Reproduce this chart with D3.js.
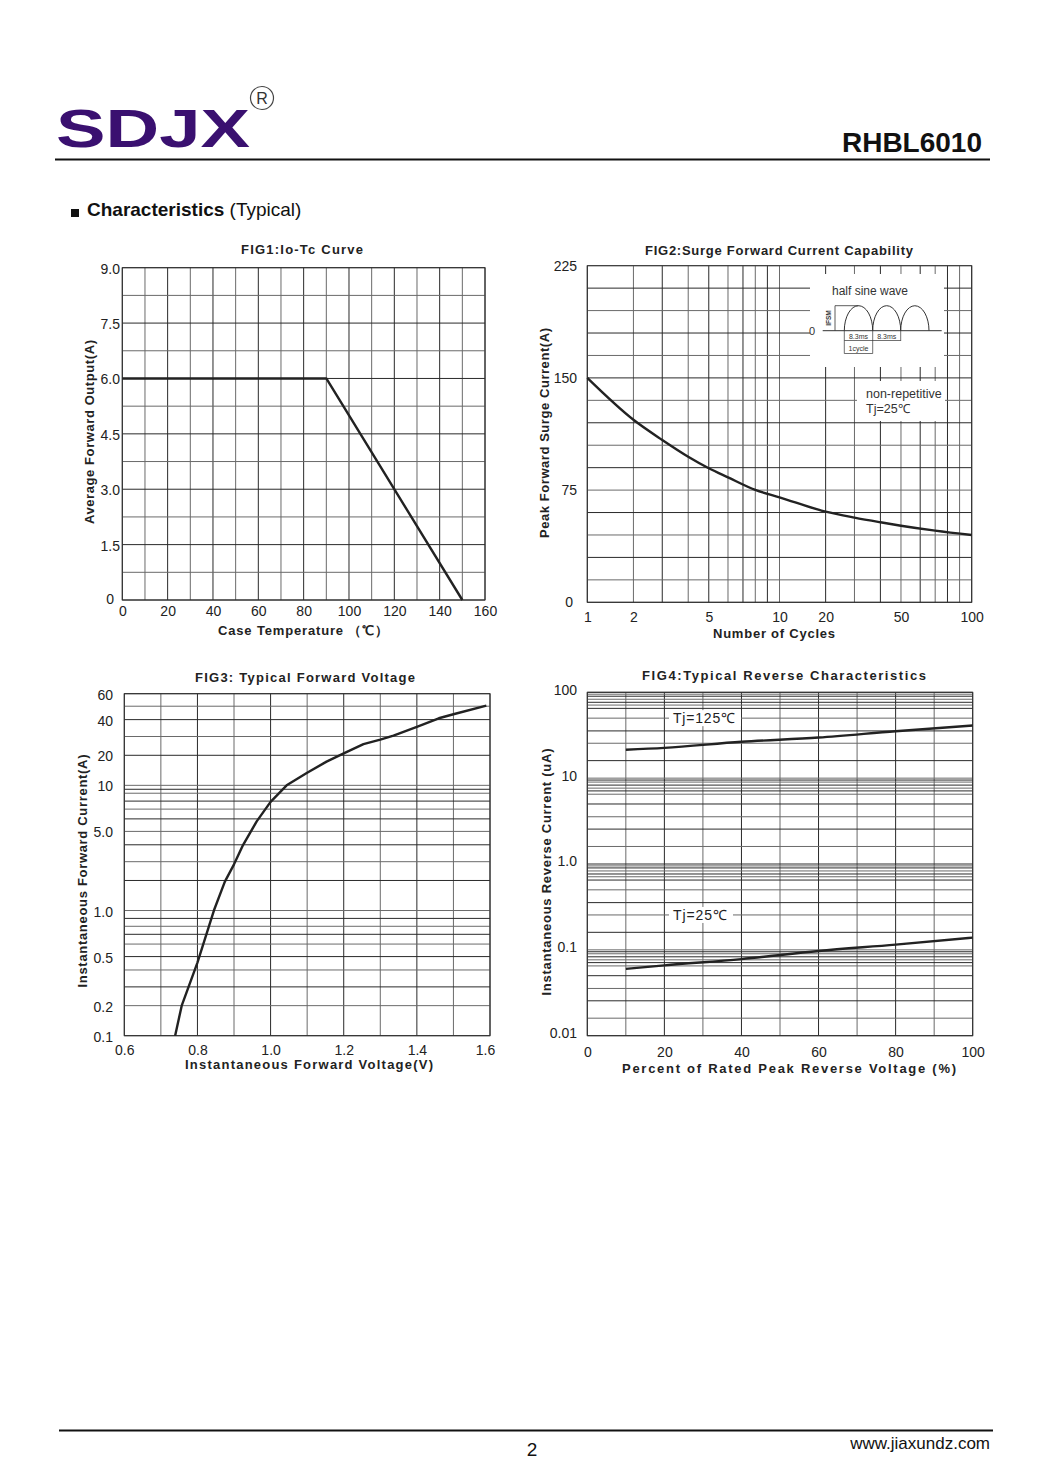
<!DOCTYPE html>
<html><head><meta charset="utf-8">
<script src="https://cdn.jsdelivr.net/npm/d3@7"></script>
<style>body{margin:0;background:#fff} svg{display:block} text{font-family:"Liberation Sans",Arial,sans-serif}</style>
</head><body>
<svg id="page" width="1045" height="1479"></svg>
<script>
// ---------------- DATA ----------------
// FIG1 Io-Tc
const fig1Temp = [0, 90, 150];
const fig1Current = [6.0, 6.0, 0];
const fig1XTicks = [0, 20, 40, 60, 80, 100, 120, 140, 160];
const fig1YTicks = [0, 1.5, 3.0, 4.5, 6.0, 7.5, 9.0];
const fig1XGrid = d3.range(0, 161, 10);
const fig1YGrid = d3.range(0, 9.01, 0.75);

// FIG2 Surge
const fig2Cycles = [1, 2, 3, 4, 5, 6, 8, 10, 20, 30, 40, 50, 70, 100];
const fig2Current = [150, 122, 108.5, 97.3, 89.6, 83.5, 75.1, 70.2, 60.6, 56.6, 53.5, 51.2, 47.9, 45];
const fig2XTicks = [1, 2, 5, 10, 20, 50, 100];
const fig2YTicks = [0, 75, 150, 225];
const fig2XGrid = [1, 2, 3, 4, 5, 6, 7, 8, 9, 10, 20, 30, 40, 50, 60, 70, 80, 90, 100];
const fig2YGrid = d3.range(0, 226, 15);

// FIG3 Forward voltage
const fig3Voltage = [0.739, 0.757, 0.80, 0.845, 0.875, 0.90, 0.925, 0.962, 1.0, 1.044, 1.10, 1.153, 1.20, 1.254, 1.30, 1.336, 1.40, 1.46, 1.50, 1.59];
const fig3Current = [0.1, 0.2, 0.455, 1.0, 1.96, 2.86, 4.0, 5.8, 7.9, 10, 14.2, 17.9, 21, 25.9, 28.3, 30.5, 35.7, 41, 44, 50.5];
const fig3XTicks = [0.6, 0.8, 1.0, 1.2, 1.4, 1.6];
const fig3YTicks = [0.1, 0.2, 0.5, 1.0, 5.0, 10, 20, 40, 60];
const fig3YTickText = ["0.1", "0.2", "0.5", "1.0", "5.0", "10", "20", "40", "60"];
const fig3XGrid = d3.range(0.6, 1.61, 0.1);
const fig3YGrid = [0.1, 0.2, 0.3, 0.4, 0.5, 0.6, 0.7, 0.8, 0.9, 1, 2, 3, 4, 5, 6, 7, 8, 9, 9.5, 10, 20, 30, 40, 50, 60];

// FIG4 Reverse
const fig4Percent = [10, 20, 40, 60, 80, 100];
const fig4Tj125 = [21.4, 22.5, 26.5, 29.7, 35.2, 41];
const fig4Tj25 = [0.06, 0.066, 0.078, 0.097, 0.115, 0.139];
const fig4XTicks = [0, 20, 40, 60, 80, 100];
const fig4YTicks = [0.01, 0.1, 1, 10, 100];
const fig4YTickText = ["0.01", "0.1", "1.0", "10", "100"];
const fig4XGrid = d3.range(0, 101, 10);
const fig4GridMantissa = [1, 1.6, 2.55, 3.55, 5, 6.5, 7.1, 7.65, 8.3, 9.0, 9.5];
const fig4Decades = [0.01, 0.1, 1, 10];
const fig4Labels = ["Tj=125℃", "Tj=25℃"];
const fig4LabelLevel = [50, 0.255];

// chart-paper "log" axis used by FIG2 / FIG3 (fraction of a decade for mantissa 1..10)
const decadeFrac = [0, 0.24, 0.39, 0.525, 0.632, 0.732, 0.81, 0.874, 0.937, 1];

// ---------------- DRAW ----------------
const svg = d3.select('#page');
const INK = '#222';
const FONT = '"Liberation Sans",Arial,sans-serif';
const mantissa = d3.scaleLinear().domain(d3.range(1, 11)).range(decadeFrac);
function chartLog(v) {
  const e = Math.floor(Math.log10(v) + 1e-9);
  return e + mantissa(v / Math.pow(10, e));
}

function gridLines(g, xPos, yPos, xVals, yVals, r) {
  g.append('g').selectAll('line').data(xVals).join('line')
    .attr('x1', d => xPos(d)).attr('x2', d => xPos(d))
    .attr('y1', r.y0).attr('y2', r.y1)
    .attr('stroke', (d, i) => i % 2 ? '#6a6a6a' : '#2a2a2a').attr('stroke-width', 1);
  g.append('g').selectAll('line').data(yVals).join('line')
    .attr('y1', d => yPos(d)).attr('y2', d => yPos(d))
    .attr('x1', r.x0).attr('x2', r.x1)
    .attr('stroke', (d, i) => i % 2 ? '#6a6a6a' : '#2a2a2a').attr('stroke-width', 1);
}
function frame(g, r) {
  g.append('rect').attr('x', r.x0).attr('y', r.y0).attr('width', r.x1 - r.x0).attr('height', r.y1 - r.y0)
    .attr('fill', 'none').attr('stroke', '#333').attr('stroke-width', 1);
}
function styleAxis(sel) {
  sel.attr('font-family', FONT).attr('font-size', 14);
  sel.select('.domain').remove();
  sel.selectAll('.tick line').remove();
  sel.selectAll('text').attr('fill', INK);
}
function title(txt, x, y, len) {
  svg.append('text').attr('x', x).attr('y', y).attr('text-anchor', 'middle')
    .attr('font-weight', 'bold').attr('font-size', 13).attr('fill', INK)
    .attr('textLength', len).attr('lengthAdjust', 'spacing').text(txt);
}
function yTitle(txt, x, cy, len) {
  svg.append('text').attr('transform', `translate(${x},${cy}) rotate(-90)`).attr('text-anchor', 'middle')
    .attr('font-weight', 'bold').attr('font-size', 13).attr('fill', INK)
    .attr('textLength', len).attr('lengthAdjust', 'spacing').text(txt);
}
function curve(g, xs, ys, xPos, yPos, smooth) {
  const pts = xs.map((d, i) => [xPos(d), yPos(ys[i])]);
  const gen = d3.line().curve(smooth ? d3.curveMonotoneX : d3.curveLinear);
  g.append('path').attr('d', gen(pts)).attr('fill', 'none')
    .attr('stroke', '#222').attr('stroke-width', 2.4).attr('stroke-linejoin', 'round');
}

// ---- Header ----
svg.append('text').attr('x', 56).attr('y', 147).attr('font-family', '"DejaVu Sans",sans-serif')
  .attr('font-weight', 'bold').attr('font-size', 54).attr('fill', '#3a1070')
  .attr('textLength', 194).attr('lengthAdjust', 'spacingAndGlyphs').text('SDJX');
svg.append('circle').attr('cx', 262).attr('cy', 98).attr('r', 11.5).attr('fill', 'none').attr('stroke', '#444').attr('stroke-width', 1.2);
svg.append('text').attr('x', 262).attr('y', 104).attr('text-anchor', 'middle').attr('font-size', 16).attr('fill', '#333').text('R');
svg.append('line').attr('x1', 55).attr('x2', 990).attr('y1', 159.5).attr('y2', 159.5).attr('stroke', '#111').attr('stroke-width', 2);
svg.append('text').attr('x', 982).attr('y', 152).attr('text-anchor', 'end').attr('font-weight', 'bold')
  .attr('font-size', 28).attr('fill', '#111').text('RHBL6010');
svg.append('rect').attr('x', 71).attr('y', 209).attr('width', 8).attr('height', 8).attr('fill', '#111');
const ch = svg.append('text').attr('x', 87).attr('y', 216).attr('font-size', 19).attr('fill', '#111');
ch.append('tspan').attr('font-weight', 'bold').text('Characteristics');
ch.append('tspan').text(' (Typical)');

// ---- Footer ----
svg.append('line').attr('x1', 59).attr('x2', 993).attr('y1', 1430.5).attr('y2', 1430.5).attr('stroke', '#111').attr('stroke-width', 2);
svg.append('text').attr('x', 532).attr('y', 1456).attr('text-anchor', 'middle').attr('font-size', 19).attr('fill', '#111').text('2');
svg.append('text').attr('x', 990).attr('y', 1449).attr('text-anchor', 'end').attr('font-size', 17).attr('fill', '#111').text('www.jiaxundz.com');

// ---- FIG1 ----
{
  const r = {x0: 122.3, x1: 485, y0: 267.7, y1: 600};
  const x = d3.scaleLinear().domain([0, 160]).range([r.x0, r.x1]);
  const y = d3.scaleLinear().domain([0, 9]).range([r.y1, r.y0]);
  const g = svg.append('g');
  gridLines(g, x, y, fig1XGrid, fig1YGrid, r);
  frame(g, r);
  curve(g, fig1Temp, fig1Current, x, y, false);
  const ya = svg.append('g').attr('transform', 'translate(120,1)')
    .call(d3.axisLeft(y).tickValues(fig1YTicks).tickSize(0).tickPadding(0).tickFormat(d => d === 0 ? '0' : d3.format('.1f')(d)));
  styleAxis(ya);
  ya.selectAll('.tick').filter(d => d === 0).select('text').attr('x', -6).attr('dy', '0.2em');
  const xa = svg.append('g').attr('transform', 'translate(0,606)')
    .call(d3.axisBottom(x).tickValues(fig1XTicks).tickSize(0).tickPadding(0));
  styleAxis(xa);
  title('FIG1:Io-Tc Curve', 302, 254, 122);
  title('Case Temperature （℃）', 303, 635, 170);
  yTitle('Average Forward Output(A)', 94, 432, 184);
}

// ---- FIG2 ----
{
  const r = {x0: 587.3, x1: 971.7, y0: 265.7, y1: 602.3};
  const xl = d3.scaleLinear().domain([0, 2]).range([r.x0, r.x1]);
  const x = v => xl(chartLog(v));
  const y = d3.scaleLinear().domain([0, 225]).range([r.y1, r.y0]);
  const g = svg.append('g');
  gridLines(g, x, y, fig2XGrid, fig2YGrid, r);
  frame(g, r);
  // inset white areas
  g.append('rect').attr('x', 810).attr('y', 274).attr('width', 134).attr('height', 93).attr('fill', '#fff');
  g.append('rect').attr('x', 857).attr('y', 381).attr('width', 88).attr('height', 40).attr('fill', '#fff');
  curve(g, fig2Cycles, fig2Current, x, y, true);
  const ya = svg.append('g').attr('transform', 'translate(577,0)')
    .call(d3.axisLeft(y).tickValues(fig2YTicks).tickSize(0).tickPadding(0));
  styleAxis(ya);
  ya.selectAll('.tick').filter(d => d === 0).select('text').attr('x', -4);
  const xa = svg.append('g').attr('transform', 'translate(0,612)')
    .call(d3.axisBottom(xl).tickValues(fig2XTicks.map(chartLog)).tickSize(0).tickPadding(0)
      .tickFormat((d, i) => fig2XTicks[i]));
  styleAxis(xa);
  title('FIG2:Surge Forward Current Capability', 779, 255, 268);
  title('Number of Cycles', 774, 638, 122);
  yTitle('Peak Forward Surge Current(A)', 549, 433, 210);

  // inset drawing
  const ins = svg.append('g').attr('fill', 'none').attr('stroke', '#333');
  const base = 330.7, peak = 305.7;
  const hx = [844.3, 872.7, 900.7, 929];
  ins.append('line').attr('x1', 822.7).attr('x2', 941.7).attr('y1', base).attr('y2', base).attr('stroke-width', 1);
  for (let i = 0; i < 3; i++) {
    const w = (hx[i + 1] - hx[i]) / 2;
    ins.append('path').attr('d', `M${hx[i]},${base} A${w},${base - peak} 0 0 1 ${hx[i + 1]},${base}`).attr('stroke-width', 1);
  }
  ins.append('line').attr('x1', 835).attr('x2', 835).attr('y1', peak).attr('y2', base).attr('stroke-width', 0.8);
  ins.append('line').attr('x1', 835).attr('x2', 858.5).attr('y1', peak).attr('y2', peak).attr('stroke-width', 0.8);
  [0, 1, 2].forEach(i => ins.append('line').attr('x1', hx[i]).attr('x2', hx[i]).attr('y1', base).attr('y2', i < 2 ? 353.5 : 341).attr('stroke-width', 0.7));
  ins.append('line').attr('x1', hx[0]).attr('x2', hx[2]).attr('y1', 340.5).attr('y2', 340.5).attr('stroke-width', 0.7);
  ins.append('line').attr('x1', hx[0]).attr('x2', hx[1]).attr('y1', 353.5).attr('y2', 353.5).attr('stroke-width', 0.7);
  const it = svg.append('g').attr('fill', '#333');
  it.append('text').attr('x', 832).attr('y', 295).attr('font-size', 12).text('half sine wave');
  it.append('text').attr('x', 809).attr('y', 335).attr('font-size', 11).text('0');
  it.append('text').attr('transform', 'translate(831,318) rotate(-90)').attr('text-anchor', 'middle')
    .attr('font-size', 6.5).attr('font-weight', 'bold').text('IFSM');
  it.append('text').attr('x', 858.5).attr('y', 338.5).attr('text-anchor', 'middle').attr('font-size', 7).text('8.3ms');
  it.append('text').attr('x', 886.7).attr('y', 338.5).attr('text-anchor', 'middle').attr('font-size', 7).text('8.3ms');
  it.append('text').attr('x', 858.5).attr('y', 350.5).attr('text-anchor', 'middle').attr('font-size', 7).text('1cycle');
  it.append('text').attr('x', 866).attr('y', 398).attr('font-size', 12.5).text('non-repetitive');
  it.append('text').attr('x', 866).attr('y', 413).attr('font-size', 12.5).text('Tj=25℃');
}

// ---- FIG3 ----
{
  const r = {x0: 124.3, x1: 490, y0: 693.7, y1: 1035.7};
  const x = d3.scaleLinear().domain([0.6, 1.6]).range([r.x0, r.x1]);
  const yl = d3.scaleLinear().domain([chartLog(0.1), chartLog(60)]).range([r.y1, r.y0]);
  const y = v => yl(chartLog(v));
  const g = svg.append('g');
  gridLines(g, x, y, fig3XGrid, fig3YGrid, r);
  frame(g, r);
  curve(g, fig3Voltage, fig3Current, x, y, false);
  const ya = svg.append('g').attr('transform', 'translate(113,1)')
    .call(d3.axisLeft(yl).tickValues(fig3YTicks.map(chartLog)).tickSize(0).tickPadding(0)
      .tickFormat((d, i) => fig3YTickText[i]));
  styleAxis(ya);
  const xa = svg.append('g').attr('transform', 'translate(0,1045)')
    .call(d3.axisBottom(x).tickValues(fig3XTicks).tickSize(0).tickPadding(0).tickFormat(d3.format('.1f')));
  styleAxis(xa);
  xa.selectAll('.tick').filter(d => d > 1.55).select('text').attr('x', -5);
  title('FIG3: Typical Forward Voltage', 305, 682, 220);
  title('Instantaneous Forward Voltage(V)', 309, 1069, 248);
  yTitle('Instantaneous Forward Current(A)', 87, 871, 233);
}

// ---- FIG4 ----
{
  const r = {x0: 587.3, x1: 972.7, y0: 692.3, y1: 1035.7};
  const x = d3.scaleLinear().domain([0, 100]).range([r.x0, r.x1]);
  const y = d3.scaleLog().domain([0.01, 100]).range([r.y1, r.y0]);
  const yGrid = fig4Decades.flatMap(dec => fig4GridMantissa.map(m => dec * m)).concat([100]);
  const g = svg.append('g');
  gridLines(g, x, y, fig4XGrid, yGrid, r);
  frame(g, r);
  // label backgrounds
  const box = [{w: 72, len: 62}, {w: 64, len: 54}];
  fig4Labels.forEach((t, i) => {
    const ly = y(fig4LabelLevel[i]);
    g.append('rect').attr('x', 669).attr('y', ly - 8).attr('width', box[i].w).attr('height', 16).attr('fill', '#fff');
    svg.append('text').attr('x', 673).attr('y', ly + 5).attr('font-size', 14).attr('fill', INK)
      .attr('textLength', box[i].len).attr('lengthAdjust', 'spacing').text(t);
  });
  curve(g, fig4Percent, fig4Tj125, x, y, true);
  curve(g, fig4Percent, fig4Tj25, x, y, true);
  const ya = svg.append('g').attr('transform', 'translate(577,-2.5)')
    .call(d3.axisLeft(y).tickValues(fig4YTicks).tickSize(0).tickPadding(0)
      .tickFormat((d, i) => fig4YTickText[i]));
  styleAxis(ya);
  const xa = svg.append('g').attr('transform', 'translate(0,1047)')
    .call(d3.axisBottom(x).tickValues(fig4XTicks).tickSize(0).tickPadding(0));
  styleAxis(xa);
  title('FIG4:Typical Reverse Characteristics', 784, 680, 284);
  title('Percent of Rated Peak Reverse Voltage  (%)', 789, 1073, 334);
  yTitle('Instantaneous Reverse Current (uA)', 551, 872, 247);
}
</script>
</body></html>
